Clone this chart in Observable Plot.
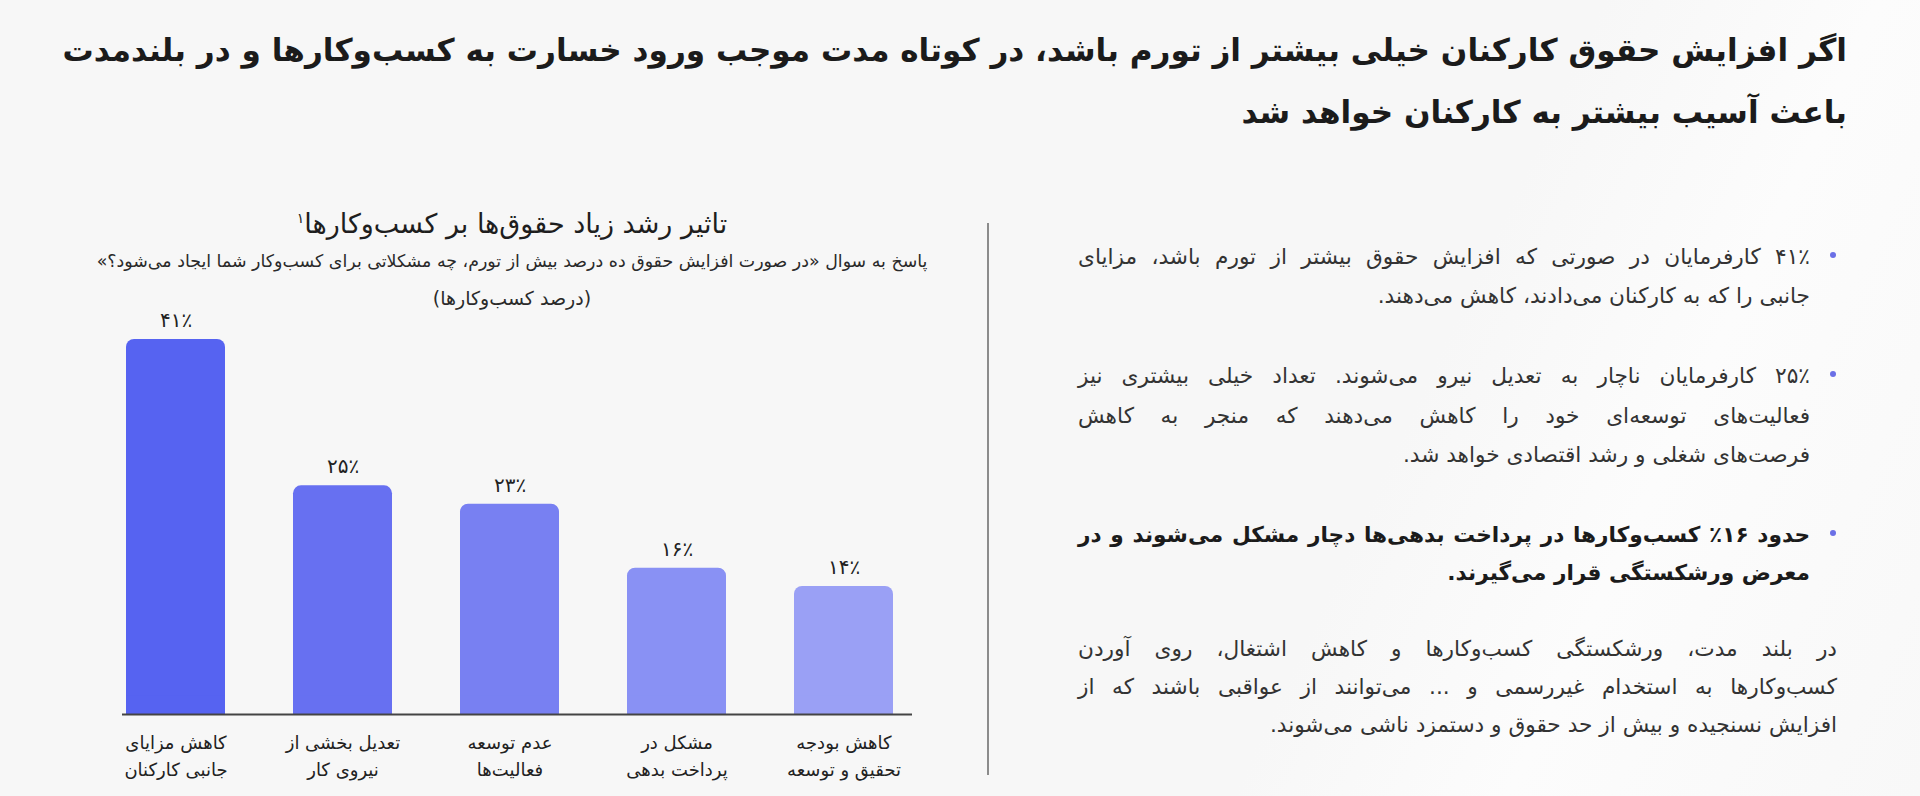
<!DOCTYPE html>
<html lang="fa">
<head>
<meta charset="utf-8">
<script src="https://cdn.jsdelivr.net/npm/d3@7"></script>
<script src="https://cdn.jsdelivr.net/npm/@observablehq/plot@0.6"></script>
<style>
  html, body { margin: 0; padding: 0; }
  body {
    width: 1920px; height: 796px; overflow: hidden; position: relative;
    background: linear-gradient(115deg, #f7f7f7 0%, #f7f7f7 70%, #fcfcfc 82%, #f8f8f8 100%);
    font-family: "DejaVu Sans", sans-serif; color: #222;
  }
  .abs { position: absolute; white-space: nowrap; }
  .rtl { direction: rtl; }
  .title { font-weight: bold; font-size: 30px; color: #1b1b1b; right: 73px; height: 60px; line-height: 60px; text-align: right; }
  .ctr { text-align: center; }
  .line { font-size: 19px; height: 40px; line-height: 40px; color: #333; }
  .just { text-align: justify; text-align-last: justify; }
  .last { text-align: right; }
  .bold { font-weight: bold; color: #1b1b1b; }
  .dot { position: absolute; width: 6px; height: 6px; border-radius: 50%; background: #6b70e6; }
  #chart { position: absolute; left: 0; top: 300px; }
  #divider { position: absolute; left: 987px; top: 223px; width: 2px; height: 552px; background: #8c8c8c; }
  .measure { position: absolute; left: -5000px; top: 0; white-space: nowrap; display: inline-block; direction: rtl; }
</style>
</head>
<body>
<div class="abs rtl title" id="t1" style="top:20px">اگر افزایش حقوق کارکنان خیلی بیشتر از تورم باشد، در کوتاه مدت موجب ورود خسارت به کسب‌وکارها و در بلندمدت</div>
<div class="abs rtl title" id="t2" style="top:82px">باعث آسیب بیشتر به کارکنان خواهد شد</div>

<div class="abs rtl ctr" style="left:112px; width:800px; top:198px; height:40px; line-height:40px; font-size:27px; color:#1e1e1e;">تاثیر رشد زیاد حقوق‌ها بر کسب‌وکارها<sup style="font-size:14px">۱</sup></div>
<div class="abs rtl ctr" style="left:12px; width:1000px; top:247px; height:28px; line-height:28px; font-size:17.4px; color:#2a2a2a;">پاسخ به سوال «در صورت افزایش حقوق ده درصد بیش از تورم، چه مشکلاتی برای کسب‌وکار شما ایجاد می‌شود؟»</div>
<div class="abs rtl ctr" style="left:312px; width:400px; top:284px; height:28px; line-height:28px; font-size:19px; color:#2a2a2a;">(درصد کسب‌وکارها)</div>

<div id="chart"></div>
<div id="divider"></div>

<div id="text"></div>

<script>
// ---- chart data ----
const categories = [
  "کاهش مزایای\nجانبی کارکنان",
  "تعدیل بخشی از\nنیروی کار",
  "عدم توسعه\nفعالیت‌ها",
  "مشکل در\nپرداخت بدهی",
  "کاهش بودجه\nتحقیق و توسعه"
];
const values = [41, 25, 23, 16, 14];
const valueLabels = ["۴۱٪", "۲۵٪", "۲۳٪", "۱۶٪", "۱۴٪"];
const barColors = ["#5663f1", "#6770f1", "#7880f2", "#8991f4", "#9aa0f5"];

// ---- side text ----
const paragraphs = [
  { bullet: true, bold: false, lines: [
    "۴۱٪ کارفرمایان در صورتی که افزایش حقوق بیشتر از تورم باشد، مزایای",
    "جانبی را که به کارکنان می‌دادند، کاهش می‌دهند."
  ], ys: [257, 296] },
  { bullet: true, bold: false, lines: [
    "۲۵٪ کارفرمایان ناچار به تعدیل نیرو می‌شوند. تعداد خیلی بیشتری نیز",
    "فعالیت‌های توسعه‌ای خود را کاهش می‌دهند که منجر به کاهش",
    "فرصت‌های شغلی و رشد اقتصادی خواهد شد."
  ], ys: [376, 416, 455] },
  { bullet: true, bold: true, lines: [
    "حدود ۱۶٪ کسب‌وکارها در پرداخت بدهی‌ها دچار مشکل می‌شوند و در",
    "معرض ورشکستگی قرار می‌گیرند."
  ], ys: [535, 573] },
  { bullet: false, bold: false, lines: [
    "در بلند مدت، ورشکستگی کسب‌وکارها و کاهش اشتغال، روی آوردن",
    "کسب‌وکارها به استخدام غیررسمی و ... می‌توانند از عواقبی باشند که از",
    "افزایش نسنجیده و بیش از حد حقوق و دستمزد ناشی می‌شوند."
  ], ys: [649, 687, 725] }
];

function naturalWidth(text, fontSize, bold) {
  const s = document.createElement("span");
  s.className = "measure";
  s.style.fontSize = fontSize + "px";
  s.style.fontWeight = bold ? "bold" : "normal";
  s.textContent = text;
  document.body.appendChild(s);
  const w = s.getBoundingClientRect().width;
  s.remove();
  return w;
}

function layoutText() {
  const textRoot = document.getElementById("text");
  textRoot.innerHTML = "";
  let scale = Infinity;
  paragraphs.forEach(p => {
    const width = p.bullet ? 732 : 759;
    p.lines.forEach((ln, i) => {
      if (i === p.lines.length - 1) return;
      scale = Math.min(scale, (width * 0.985) / naturalWidth(ln, 20, p.bold));
    });
  });
  const fs = Math.min(24, 20 * scale);
  paragraphs.forEach(p => {
    const right = p.bullet ? 110 : 83;
    const width = p.bullet ? 732 : 759;
    p.lines.forEach((ln, i) => {
      const d = document.createElement("div");
      const isLast = i === p.lines.length - 1;
      d.className = "abs rtl line " + (isLast ? "last" : "just") + (p.bold ? " bold" : "");
      d.style.right = right + "px";
      d.style.width = width + "px";
      d.style.top = (p.ys[i] - 20) + "px";
      d.style.fontSize = fs + "px";
      d.textContent = ln;
      textRoot.appendChild(d);
    });
    if (p.bullet) {
      const b = document.createElement("div");
      b.className = "dot";
      b.style.left = "1830px";
      b.style.top = (p.ys[0] - 5) + "px";
      textRoot.appendChild(b);
    }
  });
  const t1 = document.getElementById("t1");
  const w1 = naturalWidth(t1.textContent, 30, true);
  const tfs = 30 * 1785 / w1;
  t1.style.fontSize = tfs + "px";
  document.getElementById("t2").style.fontSize = tfs + "px";
}
layoutText();
if (document.fonts && document.fonts.ready) document.fonts.ready.then(layoutText);

// ---- plot ----
const data = categories.map((c, i) => ({ category: c, value: values[i], label: valueLabels[i], color: barColors[i] }));

const chart = Plot.plot({
  width: 960,
  height: 490,
  marginLeft: 122,
  marginRight: 48,
  marginTop: 39,
  marginBottom: 76,
  style: { background: "transparent", fontFamily: "DejaVu Sans", color: "#222" },
  x: { domain: categories, padding: 0.41, paddingOuter: 0, insetLeft: 2, insetRight: 18, label: null },
  y: { domain: [0, 41], axis: null },
  color: { type: "identity" },
  marks: [
    Plot.barY(data, { x: "category", y: "value", fill: "color", rx: 8, ry: 8 }),
    Plot.barY(data, { x: "category", y1: 0, y2: d => Math.min(d.value, 2), fill: "color" }),
    Plot.ruleY([0], { stroke: "#444", strokeWidth: 2 }),
    Plot.text(data, { x: "category", y: "value", text: "label", dy: -19, fontSize: 20, fill: "#222" }),
    Plot.axisX({ tickSize: 0, tickPadding: 16, fontSize: 18, lineHeight: 1.47, fill: "#222", label: null })
  ]
});
document.getElementById("chart").appendChild(chart);
</script>
</body>
</html>
